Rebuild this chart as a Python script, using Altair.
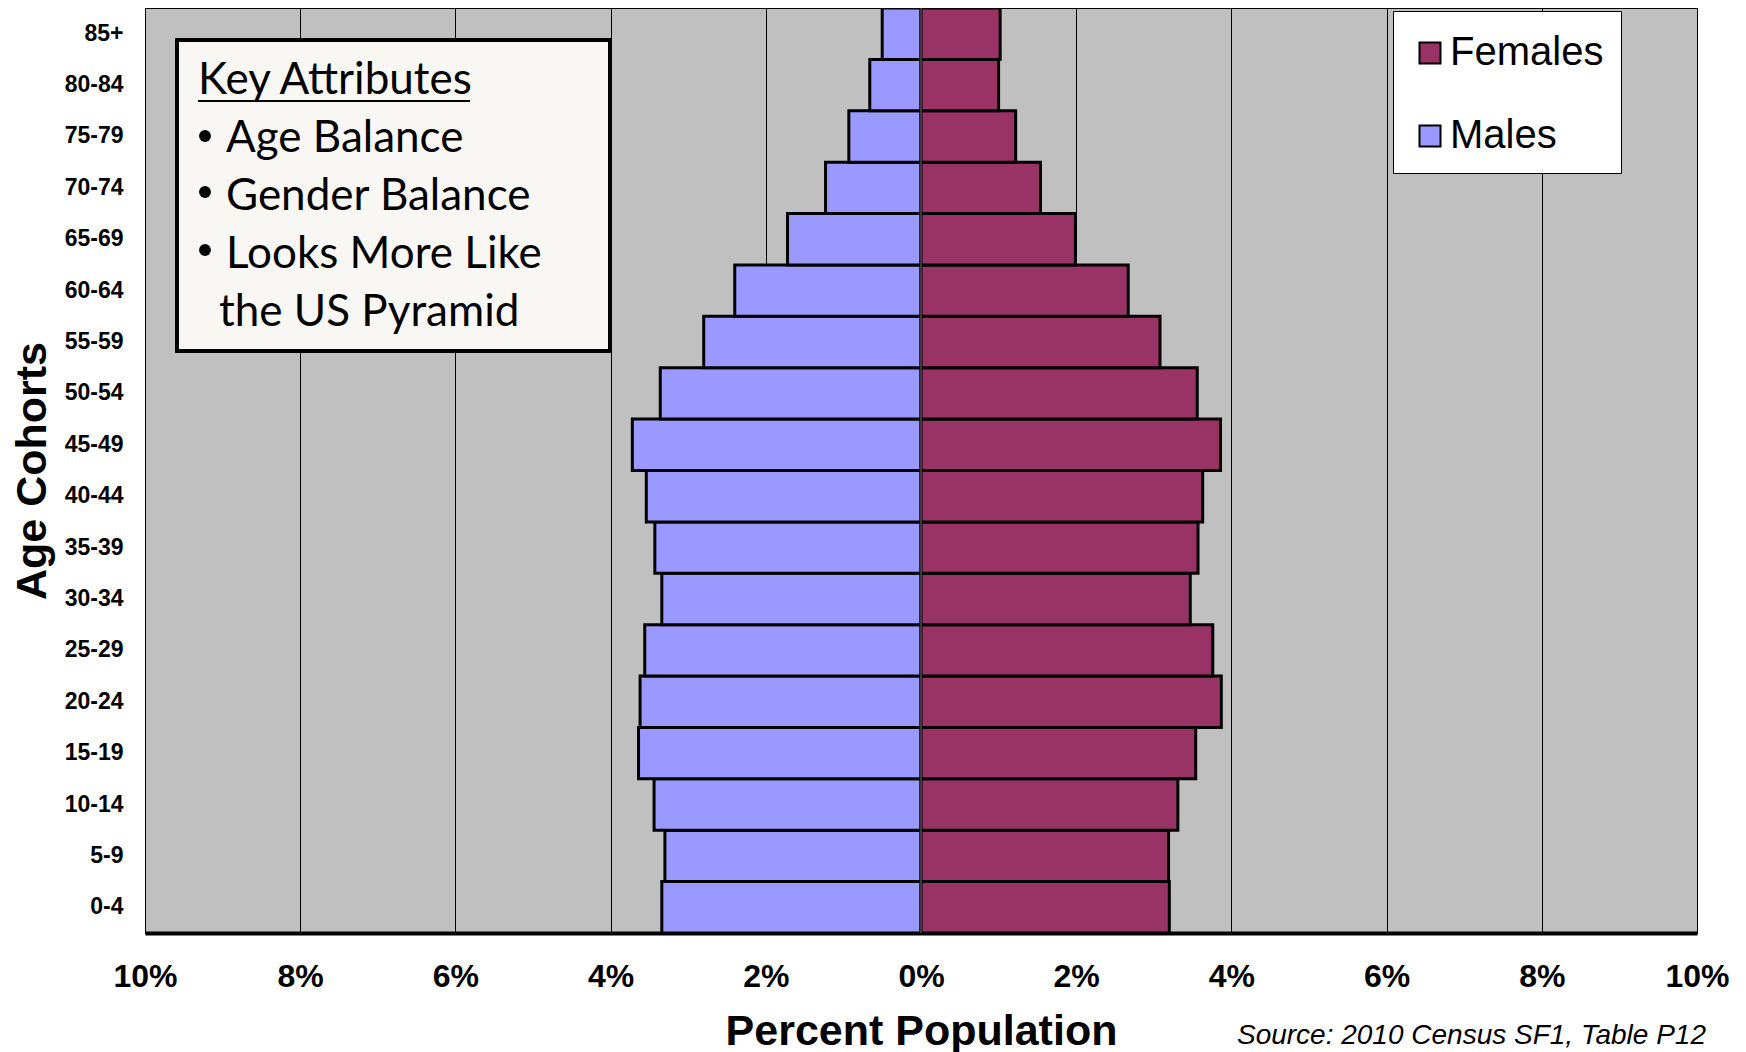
import altair as alt
import pandas as pd

# ---- data ----
ages = ["0-4", "5-9", "10-14", "15-19", "20-24", "25-29", "30-34", "35-39", "40-44",
        "45-49", "50-54", "55-59", "60-64", "65-69", "70-74", "75-79", "80-84", "85+"]
males = [3.34, 3.30, 3.44, 3.64, 3.62, 3.56, 3.34, 3.43, 3.54,
         3.72, 3.36, 2.80, 2.40, 1.72, 1.23, 0.93, 0.66, 0.50]
females = [3.20, 3.19, 3.31, 3.54, 3.87, 3.76, 3.47, 3.57, 3.63,
           3.86, 3.56, 3.08, 2.67, 1.99, 1.54, 1.22, 1.00, 1.02]
sexes = ["Females", "Males"]
sex_colors = ["#993366", "#9999FF"]
x_ticks = [-10, -8, -6, -4, -2, 0, 2, 4, 6, 8, 10]
note_title = "Key Attributes"
note_lines = ["Age Balance", "Gender Balance", "Looks More Like"]
note_cont = "the US Pyramid"
source_text = "Source: 2010 Census SF1, Table P12"

rows = []
for a, m, f in zip(ages, males, females):
    rows.append({"age": a, "sex": "Males", "pct": -m})
    rows.append({"age": a, "sex": "Females", "pct": f})
df = pd.DataFrame(rows)
order_top = ages[::-1]
one = pd.DataFrame({"k": [0]})

W, H = 1552, 925
FONT = "Liberation Sans"
NOTE_FONT = "Lato"
NOTE_SIZE = 44

bars = alt.Chart(df).mark_bar(stroke="black", strokeWidth=3, opacity=1).encode(
    x=alt.X("pct:Q", stack=None,
            scale=alt.Scale(domain=[-10, 10], nice=False, zero=False),
            axis=alt.Axis(values=x_ticks, labelExpr="abs(datum.value) + '%'",
                          labelFont=FONT, labelFontWeight="bold", labelFontSize=32,
                          labelColor="black", labelPadding=28, labelFlush=False,
                          labelOverlap=False, ticks=False,
                          grid=True, gridColor="black", gridWidth=1, gridOpacity=1,
                          domain=True, domainColor="black", domainWidth=4,
                          title="Percent Population", titleFont=FONT,
                          titleFontWeight="bold", titleFontSize=43, titleColor="black",
                          titlePadding=18)),
    y=alt.Y("age:N", sort=order_top,
            scale=alt.Scale(paddingInner=0, paddingOuter=0),
            axis=alt.Axis(labelFont=FONT, labelFontWeight="bold", labelFontSize=23,
                          labelColor="black", labelPadding=22, ticks=False,
                          domain=False, grid=False,
                          title="Age Cohorts", titleFont=FONT, titleFontWeight="bold",
                          titleFontSize=43, titleColor="black", titlePadding=10)),
    color=alt.Color("sex:N", scale=alt.Scale(domain=sexes, range=sex_colors),
                    legend=alt.Legend(title=" ", titleFontSize=5, titlePadding=0,
                                      orient="none", legendX=1248, legendY=3,
                                      fillColor="white", strokeColor="black",
                                      padding=17, rowPadding=43,
                                      symbolType="square", symbolSize=441,
                                      symbolStrokeColor="black", symbolStrokeWidth=2,
                                      symbolOpacity=1,
                                      labelFont=FONT, labelFontSize=40,
                                      labelColor="black", labelOffset=0)),
)

center = alt.Chart(one).mark_rule(color="#606060", strokeWidth=1.2).encode(
    x=alt.datum(0)
)

box = alt.Chart(one).mark_rect(fill="#F8F7F3", stroke="black", strokeWidth=4).encode(
    x=alt.value(32), x2=alt.value(465), y=alt.value(32), y2=alt.value(343)
)

layers = [bars, center, box]

layers.append(alt.Chart(one).mark_text(text=note_title, font=NOTE_FONT, fontSize=NOTE_SIZE,
                                       align="left", baseline="alphabetic",
                                       color="black").encode(
    x=alt.value(53), y=alt.value(86)))
layers.append(alt.Chart(one).mark_rule(color="black", strokeWidth=2).encode(
    x=alt.value(53), x2=alt.value(325), y=alt.value(93)))

line_y = [144, 202, 260]
bullet_y = [128, 184, 242]
for txt, yy, by in zip(note_lines, line_y, bullet_y):
    layers.append(alt.Chart(one).mark_point(shape="circle", filled=True, size=140,
                                            color="black", opacity=1).encode(
        x=alt.value(60), y=alt.value(by)))
    layers.append(alt.Chart(one).mark_text(text=txt, font=NOTE_FONT, fontSize=NOTE_SIZE,
                                           align="left", baseline="alphabetic",
                                           color="black").encode(
        x=alt.value(81), y=alt.value(yy)))
layers.append(alt.Chart(one).mark_text(text=note_cont, font=NOTE_FONT, fontSize=NOTE_SIZE,
                                       align="left", baseline="alphabetic",
                                       color="black").encode(
    x=alt.value(74), y=alt.value(318)))

layers.append(alt.Chart(one).mark_text(text=source_text, font=FONT, fontSize=28,
                                       fontStyle="italic", align="right",
                                       baseline="alphabetic", color="black").encode(
    x=alt.value(1561), y=alt.value(1036)))

chart = alt.layer(*layers).properties(
    width=W, height=H,
    autosize=alt.AutoSizeParams(type="none"),
    padding={"left": 137, "top": 0, "right": 40, "bottom": 119},
    background="white",
).configure_view(
    fill="#C0C0C0", stroke="black", strokeWidth=1
)

chart.save("out.html", embed_options={"renderer": "svg", "actions": False})
